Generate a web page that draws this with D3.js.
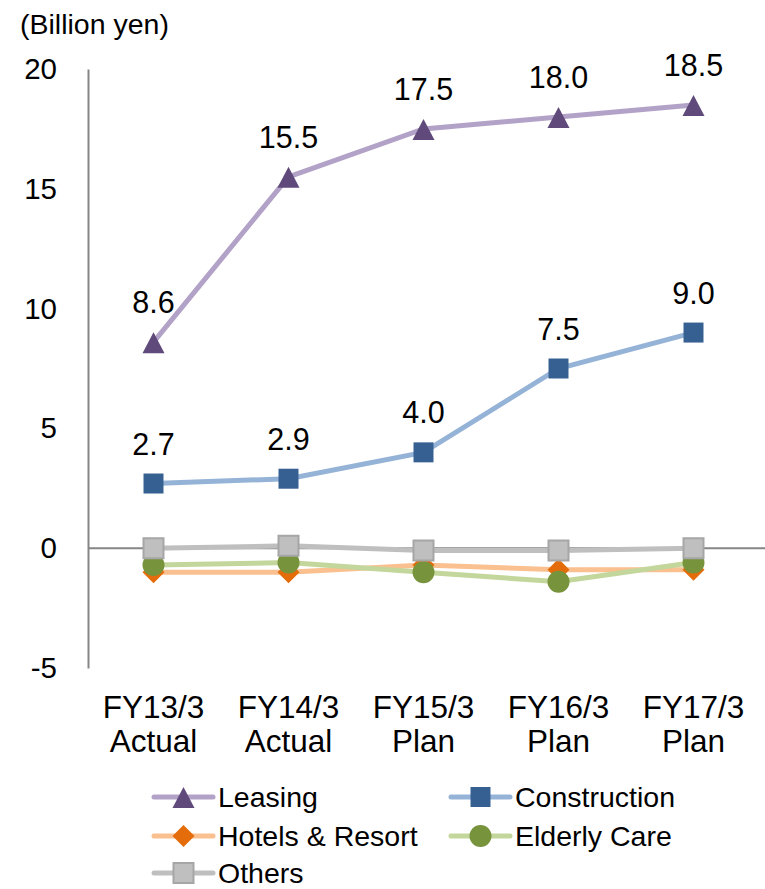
<!DOCTYPE html>
<html>
<head>
  <meta charset="utf-8">
  <script src="https://d3js.org/d3.v7.min.js"></script>
  <style>
    body { margin: 0; background: #fff; }
    text { font-family: "Liberation Sans", Arial, sans-serif; fill: #000; }
  </style>
</head>
<body>
<script>
var categories = ["FY13/3\nActual", "FY14/3\nActual", "FY15/3\nPlan", "FY16/3\nPlan", "FY17/3\nPlan"];
var leasing = [8.6, 15.5, 17.5, 18.0, 18.5];
var construction = [2.7, 2.9, 4.0, 7.5, 9.0];
var hotels = [-1.0, -1.0, -0.7, -0.9, -0.9];
var elderly = [-0.7, -0.6, -1.0, -1.4, -0.6];
var others = [0.0, 0.1, -0.1, -0.1, 0.0];
var yTicks = [-5, 0, 5, 10, 15, 20];

var series = [
  {name: "Leasing", values: leasing, line: "#b3a2c7", fill: "#604a7b", stroke: "none", shape: "triangle", labels: true},
  {name: "Construction", values: construction, line: "#95b3d7", fill: "#376092", stroke: "none", shape: "square", labels: true},
  {name: "Hotels & Resort", values: hotels, line: "#fac090", fill: "#e46c0a", stroke: "none", shape: "diamond"},
  {name: "Elderly Care", values: elderly, line: "#c3d69b", fill: "#77933c", stroke: "none", shape: "circle"},
  {name: "Others", values: others, line: "#bfbfbf", fill: "#bfbfbf", stroke: "#a6a6a6", shape: "square"}
];

var W = 765, H = 889;
var svg = d3.select("body").append("svg").attr("width", W).attr("height", H);

var x = d3.scaleBand().domain(d3.range(categories.length)).range([86, 761]);
var y = d3.scaleLinear().domain([-5, 20]).range([668, 69]);
var cx = function(i) { return x(i) + x.bandwidth() / 2; };

// title
svg.append("text").attr("x", 20).attr("y", 34).style("font-size", "28.5px").text("(Billion yen)");

// y axis
var yAxis = svg.append("g").attr("transform", "translate(88,0)")
  .call(d3.axisLeft(y).tickValues(yTicks).tickSize(0).tickPadding(31).tickFormat(function(d) { return String(d); }));
yAxis.select(".domain").attr("stroke", "#868686").attr("stroke-width", 2);
yAxis.selectAll("text").style("font-size", "29.5px").style("font-family", "Liberation Sans, Arial, sans-serif");

// zero line
svg.append("line").attr("x1", 88).attr("x2", 765).attr("y1", y(0)).attr("y2", y(0))
  .attr("stroke", "#868686").attr("stroke-width", 2);

// category labels
categories.forEach(function(c, i) {
  var t = svg.append("text").attr("text-anchor", "middle").style("font-size", "31.5px");
  c.split("\n").forEach(function(s, k) {
    t.append("tspan").attr("x", cx(i)).attr("y", 718 + k * 34).text(s);
  });
});

// marker paths, sized in pixels
function marker(shape) {
  if (shape == "triangle") return "M0,-10L11,11L-11,11Z";
  if (shape == "square") return "M-10,-10H10V10H-10Z";
  if (shape == "diamond") return "M0,-11L11,0L0,11L-11,0Z";
  return d3.symbol().type(d3.symbolCircle).size(Math.PI * 11 * 11)();
}

var line = d3.line().x(function(d, i) { return cx(i); }).y(function(d) { return y(d); });

series.forEach(function(s) {
  var g = svg.append("g");
  g.append("path").datum(s.values).attr("d", line)
    .attr("fill", "none").attr("stroke", s.line).attr("stroke-width", 5);
  g.selectAll("path.m").data(s.values).enter().append("path").attr("class", "m")
    .attr("d", marker(s.shape))
    .attr("transform", function(d, i) { return "translate(" + cx(i) + "," + y(d) + ")"; })
    .attr("fill", s.fill).attr("stroke", s.stroke).attr("stroke-width", 2);
  if (s.labels) {
    g.selectAll("text").data(s.values).enter().append("text")
      .attr("x", function(d, i) { return cx(i); })
      .attr("y", function(d) { return y(d) - 29; })
      .attr("text-anchor", "middle").style("font-size", "30.5px")
      .text(function(d) { return d.toFixed(1); });
  }
});

// legend
var legendPos = [[154, 797], [451, 797], [154, 836], [451, 836], [154, 873]];
series.forEach(function(s, i) {
  var p = legendPos[i];
  var g = svg.append("g").attr("transform", "translate(" + p[0] + "," + p[1] + ")");
  g.append("line").attr("x1", 0).attr("x2", 59).attr("stroke", s.line).attr("stroke-width", 5).attr("stroke-linecap", "round");
  g.append("path").attr("d", marker(s.shape)).attr("transform", "translate(29.5,0)")
    .attr("fill", s.fill).attr("stroke", s.stroke).attr("stroke-width", 2);
  g.append("text").attr("x", 64).attr("y", 10).style("font-size", "28.5px").text(s.name);
});
</script>
</body>
</html>
